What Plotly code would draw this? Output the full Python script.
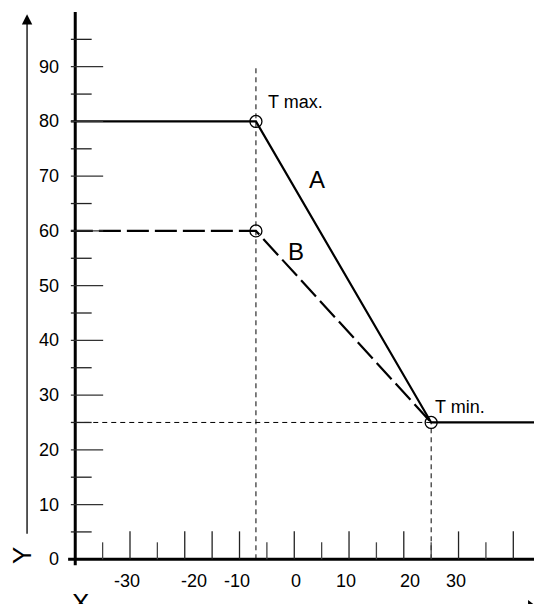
import plotly.graph_objects as go

# tick values and labels
y_ticks = [0, 10, 20, 30, 40, 50, 60, 70, 80, 90]
y_minor = [5, 15, 25, 35, 45, 55, 65, 75, 85, 95]
x_major = [-30, -20, -15, -10, 0, 10, 20, 30, 40]
x_minor = [-35, -25, -5, 5, 15, 25, 35]
x_tick_labels = ['-30', '-20', '-10', '0', '10', '20', '30']
x_label_pos = [-30.5, -18.3, -10.5, 0.3, 9.4, 21.1, 29.6]

# curves
curve_a_x = [-40.8, -7, 25, 44]
curve_a_y = [80, 80, 25, 25]
curve_b_x = [-40.8, -7, 25]
curve_b_y = [60, 60, 25]

# marked points
pts_x = [-7, -7, 25]
pts_y = [80, 60, 25]

FONT = 'Liberation Sans Narrow, Liberation Sans, Arial'
BLACK = '#000000'

fig = go.Figure()

# solid curve A
fig.add_trace(go.Scatter(x=curve_a_x, y=curve_a_y, mode='lines',
                         line=dict(color=BLACK, width=2.2)))
# dashed curve B
fig.add_trace(go.Scatter(x=curve_b_x, y=curve_b_y, mode='lines',
                         line=dict(color=BLACK, width=2.2, dash='22px,6px')))
# circles
fig.add_trace(go.Scatter(x=pts_x, y=pts_y, mode='markers',
                         marker=dict(symbol='circle-open', size=12,
                                     color=BLACK, line=dict(width=1.3))))

shapes = []
# dotted helper lines
dot = dict(color=BLACK, width=1, dash='5px,4px')
shapes.append(dict(type='line', xref='x', yref='y', x0=-7, x1=-7, y0=0, y1=90, line=dot))
shapes.append(dict(type='line', xref='x', yref='y', x0=-40, x1=25, y0=25, y1=25, line=dot))
shapes.append(dict(type='line', xref='x', yref='y', x0=25, x1=25, y0=0, y1=25, line=dot))

# axes lines
shapes.append(dict(type='line', xref='x', yref='y', x0=-40, x1=-40, y0=-1.1, y1=100,
                   line=dict(color=BLACK, width=3)))
shapes.append(dict(type='line', xref='x', yref='y', x0=-41.3, x1=44, y0=0, y1=0,
                   line=dict(color=BLACK, width=3)))

# y ticks
for v in y_ticks[1:]:
    shapes.append(dict(type='line', xref='x', yref='y', x0=-40.8, x1=-34.9, y0=v, y1=v,
                       line=dict(color='#333333', width=1.3)))
for v in y_minor:
    shapes.append(dict(type='line', xref='x', yref='y', x0=-40.8, x1=-37.0, y0=v, y1=v,
                       line=dict(color='#222222', width=1.3)))
# x ticks
for v in x_major:
    shapes.append(dict(type='line', xref='x', yref='y', x0=v, x1=v, y0=0, y1=5.1,
                       line=dict(color='#222222', width=1.3)))
for v in x_minor:
    shapes.append(dict(type='line', xref='x', yref='y', x0=v, x1=v, y0=0, y1=3.1,
                       line=dict(color='#444444', width=1.3)))

annotations = []
for v in y_ticks:
    annotations.append(dict(x=-42.6, y=v, xref='x', yref='y', text=str(v), showarrow=False,
                            xanchor='right', yanchor='middle', font=dict(size=18)))
for lab, pos in zip(x_tick_labels, x_label_pos):
    annotations.append(dict(x=pos, y=-3.9, xref='x', yref='y', text=lab, showarrow=False,
                            xanchor='center', yanchor='middle', font=dict(size=18)))

annotations += [
    dict(x=-5.2, y=83.5, text='T max.', showarrow=False, xanchor='left', font=dict(size=18)),
    dict(x=4.2, y=69.4, text='A', showarrow=False, font=dict(size=24)),
    dict(x=0.3, y=56.3, text='B', showarrow=False, font=dict(size=24)),
    dict(x=25.3, y=27.8, text='T min.', showarrow=False, xanchor='left', font=dict(size=18)),
    dict(x=-49.7, y=0.6, text='Y', showarrow=False, textangle=-90, font=dict(size=26)),
    dict(x=-39.0, y=-7.9, text='X', showarrow=False, font=dict(size=26)),
    # vertical arrow on the left
    dict(x=-48.8, y=99.6, ax=-48.8, ay=4.4, xref='x', yref='y', axref='x', ayref='y',
         text='', showarrow=True, arrowhead=2, arrowsize=1.6, arrowwidth=1.3, arrowcolor=BLACK),
]

# small arrowhead cut off at bottom right
fig.add_trace(go.Scatter(x=[43.2], y=[-8.6], mode='markers',
                         marker=dict(symbol='triangle-right', size=11, color=BLACK)))

fig.update_layout(
    width=534, height=604,
    margin=dict(l=0, r=0, t=0, b=0),
    paper_bgcolor='white', plot_bgcolor='white',
    showlegend=False,
    font=dict(family=FONT, color=BLACK),
    xaxis=dict(range=[-53.74, 43.78], visible=False, fixedrange=True),
    yaxis=dict(range=[-8.17, 102.19], visible=False, fixedrange=True),
    shapes=shapes,
    annotations=annotations,
)

fig.write_html("out.html", config={'displayModeBar': False},
               post_script="document.body.style.margin='0';")
